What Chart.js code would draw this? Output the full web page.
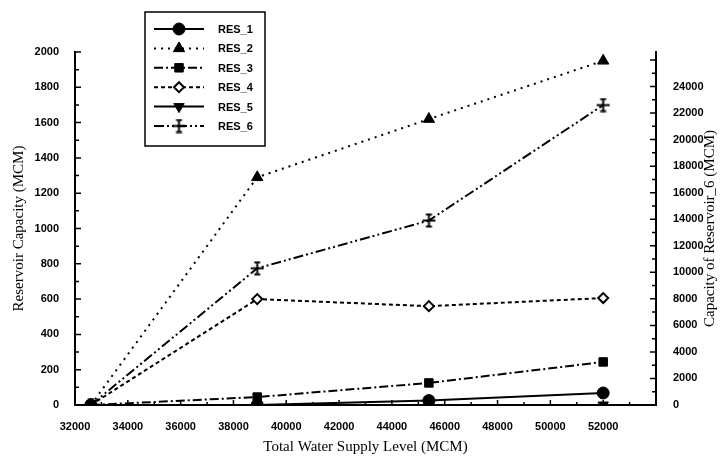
<!DOCTYPE html>
<html>
<head>
<meta charset="utf-8">
<script src="https://cdn.jsdelivr.net/npm/chart.js@4"></script>
<style>
  html, body { margin: 0; padding: 0; background: #fff; }
  #wrap { width: 724px; height: 464px; }
</style>
</head>
<body>
<div id="wrap"><canvas id="c" width="724" height="464"></canvas></div>
<script>
// values
const supplyLevels = [32600, 38900, 45400, 52000];
const res1 = [0, 0, 25, 68];
const res2 = [0, 1290, 1620, 1950];
const res3 = [0, 45, 125, 244];
const res4 = [0, 600, 560, 606];
const res5 = [0, 0, 0, 0];
const res6 = [0, 10300, 13900, 22600];   // right axis
const seriesNames = ['RES_1', 'RES_2', 'RES_3', 'RES_4', 'RES_5', 'RES_6'];

const xTicks = [32000, 34000, 36000, 38000, 40000, 42000, 44000, 46000, 48000, 50000, 52000];
const yTicks = [0, 200, 400, 600, 800, 1000, 1200, 1400, 1600, 1800, 2000];
const y1Ticks = [0, 2000, 4000, 6000, 8000, 10000, 12000, 14000, 16000, 18000, 20000, 22000, 24000];

const ink = '#000';
const tickFont = { family: '"Liberation Sans", Arial, sans-serif', size: 11, weight: 'bold' };
const titleFont = { family: '"Liberation Serif", "Times New Roman", serif', size: 15 };

// plus sign with end caps, used for RES_6
function makeCrossMarker() {
    const cv = document.createElement('canvas');
    cv.width = 15; cv.height = 15;
    const g = cv.getContext('2d');
    g.strokeStyle = ink;
    g.lineWidth = 2;
    g.beginPath();
    g.moveTo(7.5, 1); g.lineTo(7.5, 14);
    g.moveTo(4.5, 1.5); g.lineTo(10.5, 1.5);
    g.moveTo(4.5, 13.5); g.lineTo(10.5, 13.5);
    g.moveTo(1, 7.5); g.lineTo(14, 7.5);
    g.stroke();
    return cv;
}

function pts(ys) {
    return supplyLevels.map((x, i) => ({ x: x, y: ys[i] }));
}

function series(label, ys, style, dash, extra) {
    return Object.assign({
        label: label,
        data: pts(ys),
        borderColor: ink,
        backgroundColor: ink,
        borderWidth: 2,
        borderDash: dash,
        pointStyle: style,
        pointRadius: 6,
        pointBorderWidth: 1,
        pointBorderColor: ink,
        pointBackgroundColor: ink,
        yAxisID: 'y',
        tension: 0
    }, extra || {});
}

const datasets = [
    series(seriesNames[0], res1, 'circle', []),
    series(seriesNames[1], res2, 'triangle', [2, 5], { pointRadius: 6.5 }),
    series(seriesNames[2], res3, 'rect', [9, 3, 2, 3], { order: -1 }),
    series(seriesNames[3], res4, 'rectRot', [4, 3], { pointBackgroundColor: '#fff', pointBorderWidth: 2, pointRadius: 5 }),
    series(seriesNames[4], res5, 'triangle', [], { pointRotation: 180 }),
    series(seriesNames[5], res6, makeCrossMarker(), [10, 3, 2, 3, 2, 3], { yAxisID: 'y1' })
];

function fixedTicks(list) {
    return function (scale) { scale.ticks = list.map(v => ({ value: v })); };
}

// inward tick marks, right-axis title and boxed legend
const decorations = {
    id: 'decorations',
    afterDraw(chart) {
        const ctx = chart.ctx;
        const a = chart.chartArea;
        const sx = chart.scales.x, sy = chart.scales.y, sy1 = chart.scales.y1;
        ctx.save();
        ctx.strokeStyle = ink;
        ctx.lineWidth = 1.5;
        ctx.beginPath();
        for (let v = 0; v <= 2000; v += 100) {
            const p = sy.getPixelForValue(v);
            ctx.moveTo(a.left, p); ctx.lineTo(a.left + (v % 200 === 0 ? 6 : 4), p);
        }
        for (let v = 0; v <= 26000; v += 1000) {
            const p = sy1.getPixelForValue(v);
            ctx.moveTo(a.right, p); ctx.lineTo(a.right - (v % 2000 === 0 ? 6 : 4), p);
        }
        for (let v = 33000; v < 54000; v += 1000) {
            const p = sx.getPixelForValue(v);
            ctx.moveTo(p, a.bottom); ctx.lineTo(p, a.bottom - (v % 2000 === 0 ? 5 : 3));
        }
        ctx.stroke();

        // right title, reading bottom to top
        ctx.fillStyle = ink;
        ctx.font = titleFont.size + 'px ' + titleFont.family;
        ctx.textAlign = 'center';
        ctx.textBaseline = 'middle';
        ctx.translate(710, (a.top + a.bottom) / 2);
        ctx.rotate(-Math.PI / 2);
        ctx.fillText('Capacity of Reservoir_6 (MCM)', 0, 0);
        ctx.restore();

        // legend box
        ctx.save();
        ctx.strokeStyle = ink;
        ctx.lineWidth = 1.5;
        ctx.strokeRect(145, 12, 120, 134);
        ctx.font = 'bold 11px ' + tickFont.family;
        ctx.textBaseline = 'middle';
        ctx.textAlign = 'left';
        chart.data.datasets.forEach((ds, i) => {
            const y = 29 + i * 19.4;
            ctx.save();
            ctx.lineWidth = ds.borderWidth;
            ctx.setLineDash(ds.borderDash);
            ctx.beginPath();
            ctx.moveTo(154, y); ctx.lineTo(204, y);
            ctx.stroke();
            ctx.restore();
            ctx.save();
            ctx.fillStyle = ds.pointBackgroundColor;
            ctx.strokeStyle = ink;
            ctx.lineWidth = ds.pointBorderWidth;
            Chart.helpers.drawPoint(ctx, {
                pointStyle: ds.pointStyle,
                rotation: ds.pointRotation || 0,
                radius: ds.pointRadius,
                borderWidth: ds.pointBorderWidth
            }, 179, y);
            ctx.restore();
            ctx.fillStyle = ink;
            ctx.fillText(ds.label, 218, y + 1);
        });
        ctx.restore();
    }
};

new Chart(document.getElementById('c'), {
    type: 'line',
    data: { datasets: datasets },
    plugins: [decorations],
    options: {
        responsive: false,
        animation: false,
        layout: { padding: { top: 52, left: 0, right: 0, bottom: 0 } },
        plugins: {
            legend: { display: false },
            tooltip: { enabled: false }
        },
        scales: {
            x: {
                type: 'linear',
                min: 32000,
                max: 54000,
                afterBuildTicks: fixedTicks(xTicks),
                afterFit(s) { s.height = 59; },
                grid: { display: false },
                border: { display: true, color: ink, width: 2 },
                ticks: {
                    padding: 7,
                    color: ink,
                    font: tickFont,
                    maxRotation: 0,
                    autoSkip: false,
                    callback: v => String(v)
                },
                title: {
                    display: true,
                    text: 'Total Water Supply Level (MCM)',
                    color: ink,
                    font: titleFont,
                    padding: { top: 0, bottom: 8 }
                }
            },
            y: {
                position: 'left',
                min: 0,
                max: 2000,
                afterBuildTicks: fixedTicks(yTicks),
                afterFit(s) { s.width = 75; },
                grid: { display: false },
                border: { display: true, color: ink, width: 2 },
                ticks: {
                    padding: 8,
                    color: ink,
                    font: tickFont,
                    callback: v => String(v)
                },
                title: {
                    display: true,
                    text: 'Reservoir Capacity (MCM)',
                    color: ink,
                    font: titleFont,
                    padding: { top: 10, bottom: 0 }
                }
            },
            y1: {
                position: 'right',
                min: 0,
                max: 26600,
                afterBuildTicks: fixedTicks(y1Ticks),
                afterFit(s) { s.width = 68; },
                grid: { display: false },
                border: { display: true, color: ink, width: 2 },
                ticks: {
                    padding: 9,
                    color: ink,
                    font: tickFont,
                    callback: v => String(v)
                }
            }
        }
    }
});
</script>
</body>
</html>
